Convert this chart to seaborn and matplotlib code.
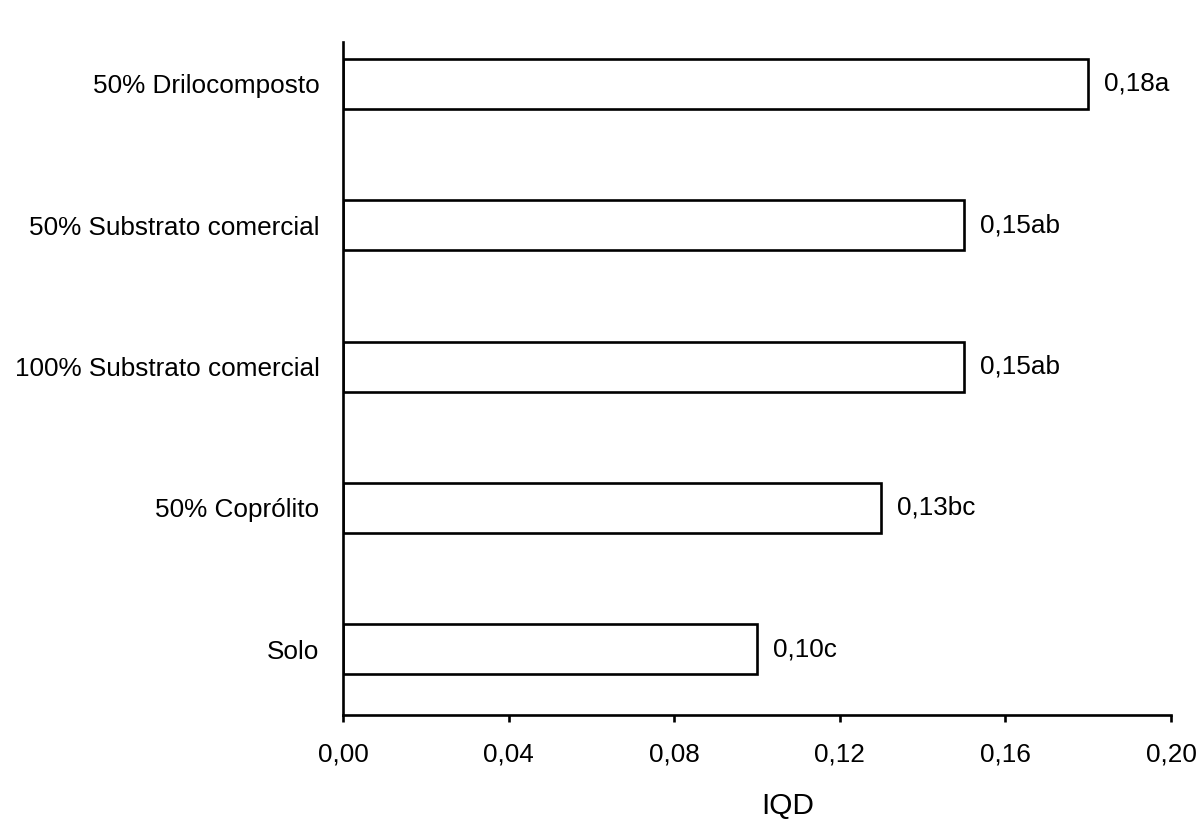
import pandas as pd
import matplotlib.pyplot as plt
import seaborn as sns
from matplotlib.ticker import FuncFormatter

# Dados
tratamentos = ['50% Drilocomposto', '50% Substrato comercial', '100% Substrato comercial',
               '50% Coprólito', 'Solo']
iqd = [0.18, 0.15, 0.15, 0.13, 0.10]
letras = ['a', 'ab', 'ab', 'bc', 'c']
xticks = [0.00, 0.04, 0.08, 0.12, 0.16, 0.20]

df = pd.DataFrame({'Tratamento': tratamentos, 'IQD': iqd, 'Letra': letras})

sns.set_style('white')
plt.rcParams['font.family'] = ['Liberation Sans', 'DejaVu Sans']
plt.rcParams['text.color'] = 'black'
plt.rcParams['xtick.color'] = 'black'
plt.rcParams['ytick.color'] = 'black'
plt.rcParams['axes.labelcolor'] = 'black'

fig = plt.figure(figsize=(12.01, 8.21), dpi=100)
ax = fig.add_axes([0.2856, 0.1291, 0.6894, 0.8197])

sns.barplot(data=df, x='IQD', y='Tratamento', orient='h', ax=ax,
            color='white', edgecolor='black', linewidth=1.9, width=0.354)

# rótulos com letras
for i, (v, l) in enumerate(zip(df['IQD'], df['Letra'])):
    ax.text(v + 0.0038, i, f'{v:.2f}'.replace('.', ',') + l,
            va='center', ha='left', fontsize=18.8)

ax.set_xlim(0, 0.20)
ax.set_ylim(4.467, -0.297)
ax.set_xticks(xticks)
ax.xaxis.set_major_formatter(FuncFormatter(lambda x, p: f'{x:.2f}'.replace('.', ',')))

for s in ['top', 'right']:
    ax.spines[s].set_visible(False)
for s in ['left', 'bottom']:
    ax.spines[s].set_color('black')
    ax.spines[s].set_linewidth(1.9)

ax.tick_params(axis='x', direction='out', length=5, width=1.9,
               labelsize=18.8, pad=15, bottom=True)
ax.tick_params(axis='y', length=0, labelsize=18.8, pad=17)
ax.set_ylabel('')
ax.set_xlabel('IQD', fontsize=21.5)
ax.xaxis.set_label_coords(0.537, -0.115)

fig.savefig('out.png', dpi=100)
